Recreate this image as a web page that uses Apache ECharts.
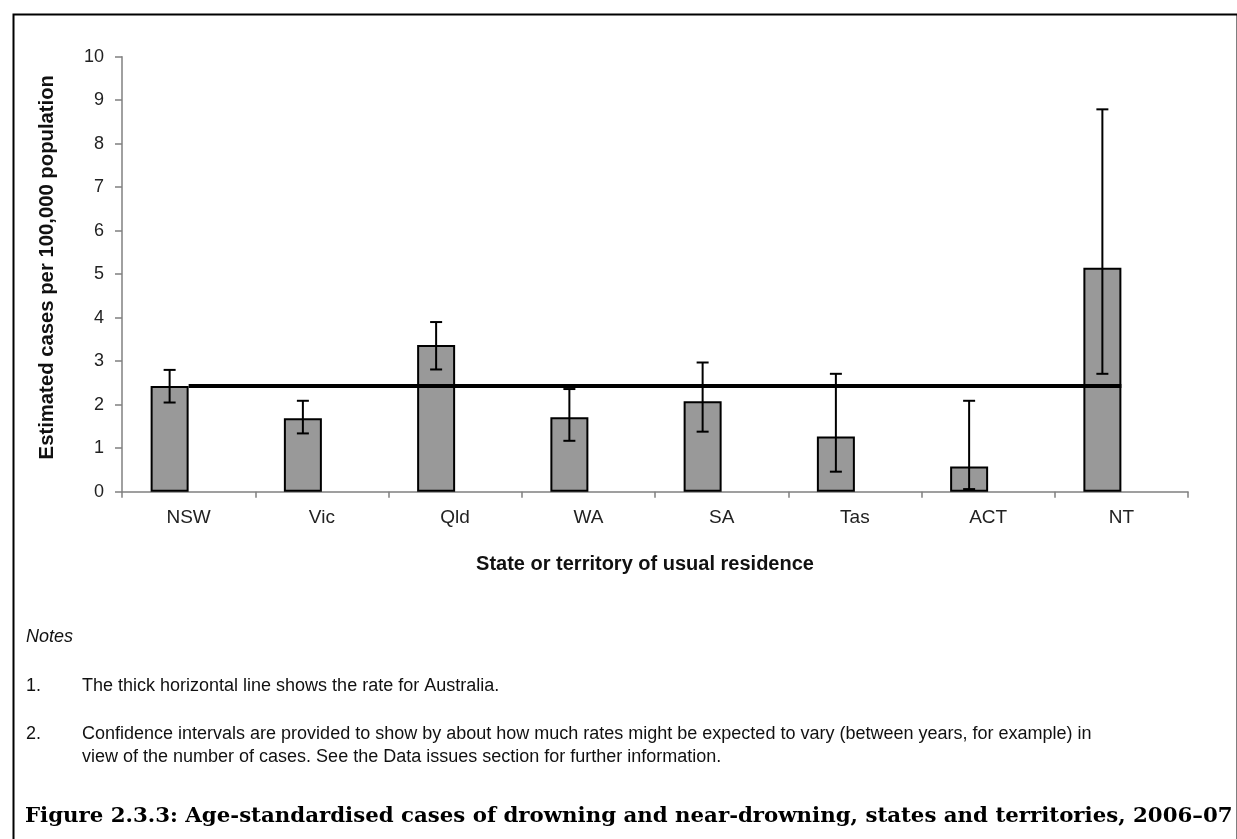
<!DOCTYPE html>
<html>
<head>
<meta charset="utf-8">
<script src="https://cdn.jsdelivr.net/npm/echarts@6/dist/echarts.min.js"></script>
<style>
html,body{margin:0;padding:0;background:#fff;}
#chart{width:1237px;height:839px;}
</style>
</head>
<body>
<div id="chart"></div>
<script>
// ---- data ----
const categories = ['NSW', 'Vic', 'Qld', 'WA', 'SA', 'Tas', 'ACT', 'NT'];
const rates      = [2.43, 1.69, 3.37, 1.71, 2.08, 1.27, 0.58, 5.15];
const lowerCI    = [2.05, 1.34, 2.81, 1.17, 1.38, 0.46, 0.06, 2.71];
const upperCI    = [2.80, 2.09, 3.90, 2.36, 2.97, 2.71, 2.09, 8.79];
const australiaRate = [2.43, 2.43, 2.43, 2.43, 2.43, 2.43, 2.43, 2.43];
const yTicks = [0, 1, 2, 3, 4, 5, 6, 7, 8, 9, 10];

const SANS = '"Liberation Sans", Arial, sans-serif';
const BAR_W = 38;

const chart = echarts.init(document.getElementById('chart'), null, {renderer: 'canvas'});

const errData = categories.map((c, i) => [i, lowerCI[i], upperCI[i]]);

const option = {
  animation: false,
  backgroundColor: '#ffffff',
  grid: {left: 122, right: 49, top: 56.7, bottom: 347.3, containLabel: false},
  xAxis: {
    type: 'category',
    data: categories,
    axisLine: {lineStyle: {color: '#808080', width: 1.5}},
    axisTick: {show: true, length: 6, lineStyle: {color: '#808080', width: 1.5}},
    axisLabel: {color: '#222', fontFamily: SANS, fontSize: 19, margin: 17},
    name: 'State or territory of usual residence',
    nameLocation: 'middle',
    nameGap: 63,
    nameTextStyle: {color: '#111', fontFamily: SANS, fontSize: 20, fontWeight: 'bold', padding: [0, 20, 0, 0]}
  },
  yAxis: {
    type: 'value',
    min: 0, max: 10, interval: 1,
    axisLine: {show: true, lineStyle: {color: '#808080', width: 1.5}},
    axisTick: {show: true, length: 7, lineStyle: {color: '#808080', width: 1.5}},
    splitLine: {show: false},
    axisLabel: {color: '#222', fontFamily: SANS, fontSize: 18, margin: 18,
      formatter: v => yTicks.includes(v) ? String(v) : ''},
    name: 'Estimated cases per 100,000 population',
    nameLocation: 'middle',
    nameGap: 65,
    nameTextStyle: {color: '#111', fontFamily: SANS, fontSize: 20.3, fontWeight: 'bold', padding: [0, 0, 0, 14]}
  },
  series: [
    {
      type: 'bar',
      data: rates,
      barWidth: BAR_W,
      barGap: '0%',
      itemStyle: {color: '#999999', borderColor: '#000', borderWidth: 2},
      z: 2
    },
    {
      type: 'bar',
      data: categories.map(() => '-'),
      barWidth: BAR_W,
      barGap: '0%',
      itemStyle: {color: 'transparent'}
    },
    {
      type: 'line',
      data: australiaRate,
      symbol: 'none',
      lineStyle: {color: '#000', width: 4},
      z: 4
    },
    {
      type: 'custom',
      data: errData,
      z: 5,
      renderItem: function (params, api) {
        const i = api.value(0);
        const lo = api.coord([i, api.value(1)]);
        const hi = api.coord([i, api.value(2)]);
        const x = lo[0] - BAR_W / 2;
        const cap = 6;
        const st = {stroke: '#000', lineWidth: 2};
        return {
          type: 'group',
          children: [
            {type: 'line', shape: {x1: x, y1: lo[1], x2: x, y2: hi[1]}, style: st},
            {type: 'line', shape: {x1: x - cap, y1: lo[1], x2: x + cap, y2: lo[1]}, style: st},
            {type: 'line', shape: {x1: x - cap, y1: hi[1], x2: x + cap, y2: hi[1]}, style: st}
          ]
        };
      }
    }
  ],
  graphic: [
    {type: 'rect', left: 11, top: 12, shape: {width: 1224, height: 840},
      style: {fill: 'none', stroke: '#000', lineWidth: 2}, silent: true},
    {type: 'text', x: 26, y: 637, style: {text: 'Notes', font: 'italic 18px ' + SANS, fill: '#111', verticalAlign: 'middle'}},
    {type: 'text', x: 26, y: 686, style: {text: '1.', font: '18px ' + SANS, fill: '#111', verticalAlign: 'middle'}},
    {type: 'text', x: 82, y: 686, style: {text: 'The thick horizontal line shows the rate for Australia.', font: '18px ' + SANS, fill: '#111', verticalAlign: 'middle'}},
    {type: 'text', x: 26, y: 734, style: {text: '2.', font: '18px ' + SANS, fill: '#111', verticalAlign: 'middle'}},
    {type: 'text', x: 82, y: 734, style: {text: 'Confidence intervals are provided to show by about how much rates might be expected to vary (between years, for example) in', font: '18px ' + SANS, fill: '#111', verticalAlign: 'middle'}},
    {type: 'text', x: 82, y: 757, style: {text: 'view of the number of cases. See the Data issues section for further information.', font: '18px ' + SANS, fill: '#111', verticalAlign: 'middle'}},
    {type: 'text', x: 25, y: 816, style: {text: 'Figure 2.3.3: Age-standardised cases of drowning and near-drowning, states and territories, 2006–07', font: 'bold 21.3px "DejaVu Serif", "Liberation Serif", serif', fill: '#000', verticalAlign: 'middle'}}
  ]
};
chart.setOption(option);
</script>
</body>
</html>
